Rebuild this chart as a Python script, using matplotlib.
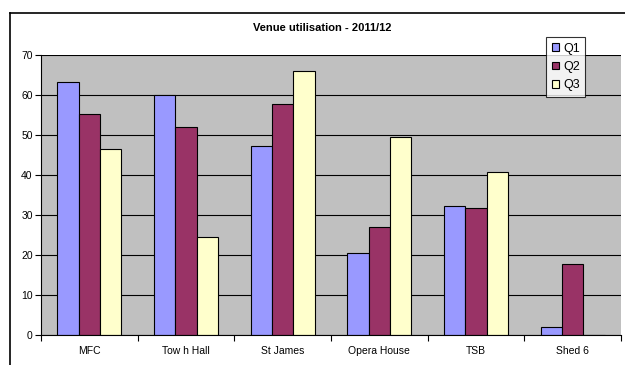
import matplotlib
matplotlib.use("Agg")
import matplotlib.pyplot as plt
import numpy as np
from matplotlib.lines import Line2D

plt.rcParams['font.family'] = ['Liberation Sans', 'DejaVu Sans']

categories = ["MFC", "Tow h Hall", "St James", "Opera House", "TSB", "Shed 6"]
series_names = ["Q1", "Q2", "Q3"]
q1 = [63.2, 60.0, 47.2, 20.5, 32.2, 1.9]
q2 = [55.3, 52.0, 57.8, 27.0, 31.8, 17.8]
q3 = [46.6, 24.4, 65.9, 49.4, 40.7, 0.0]
y_ticks = [0, 10, 20, 30, 40, 50, 60, 70]
colors = ["#9999FF", "#993366", "#FFFFCC"]

fig = plt.figure(figsize=(6.25, 3.65), dpi=100)
ax = fig.add_axes([41/625, 1-335/365, (621-41)/625, (335-55)/365])
ax.set_facecolor("#C0C0C0")

x = np.arange(len(categories))
w = 0.22
for j, (vals, name) in enumerate(zip([q1, q2, q3], series_names)):
    ax.bar(x + (j-1)*w, vals, width=w, color=colors[j], edgecolor="black",
           linewidth=0.8, label=name, zorder=3)

ax.set_xlim(-0.5, len(categories)-0.5)
ax.set_ylim(0, 70)
ax.set_yticks(y_ticks)
ax.set_yticklabels([str(v) for v in y_ticks], fontsize=7.5)
ax.set_xticks(x)
ax.set_xticklabels(categories, fontsize=7.5)
ax.tick_params(axis='x', which='major', length=0, pad=8)
ax.set_xticks(np.arange(-0.5, len(categories)), minor=True)
ax.tick_params(axis='x', which='minor', length=4, direction='out', width=0.8)
ax.tick_params(axis='y', length=4, direction='out', width=0.8, pad=2)
ax.yaxis.grid(True, color="black", linewidth=0.8, zorder=1)
ax.set_axisbelow(True)
for s in ["top", "right"]:
    ax.spines[s].set_visible(False)
ax.spines["left"].set_linewidth(0.8)
ax.spines["bottom"].set_linewidth(0.8)
ax.spines["bottom"].set_zorder(4)

fig.text(322/625, 1-28/365, "Venue utilisation - 2011/12", ha="center", va="center",
         fontsize=8, fontweight="bold")

leg = fig.legend(loc="upper left", bbox_to_anchor=(546/625, 1-37/365),
                 bbox_transform=fig.transFigure, fontsize=9, frameon=True,
                 fancybox=False, edgecolor="black", handlelength=0.6, handleheight=0.6,
                 handletextpad=0.3, labelspacing=0.5, borderpad=0.45, borderaxespad=0,
                 shadow=False)
leg.get_frame().set_linewidth(0.8)

# outer chart frame
fig.add_artist(Line2D([9.5/625, 9.5/625], [0, 1-12.5/365], color="black", linewidth=1.2,
                      transform=fig.transFigure))
fig.add_artist(Line2D([9.5/625, 1], [1-12.5/365, 1-12.5/365], color="black", linewidth=1.2,
                      transform=fig.transFigure))

fig.savefig("out.png", dpi=100)
